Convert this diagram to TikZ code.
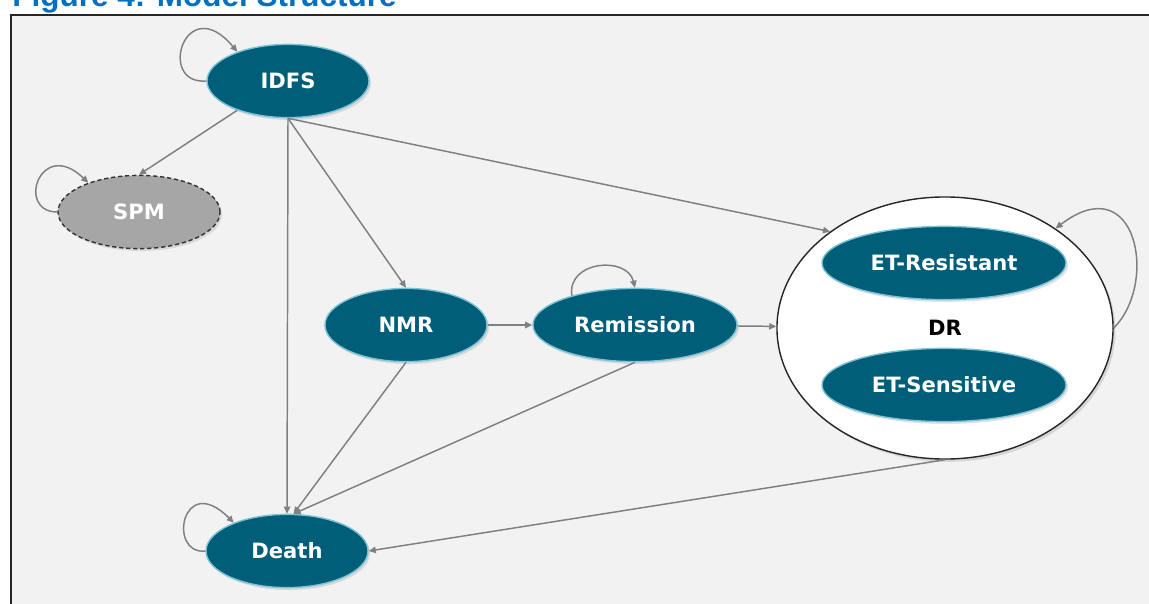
\documentclass[tikz,border=0pt]{standalone}
\usepackage{fontspec}
\setmainfont{DejaVu Sans}
\newfontfamily\titlefont{Liberation Sans}
\usetikzlibrary{shapes.geometric,arrows.meta,shadows}
\definecolor{tealfill}{RGB}{0,94,120}
\definecolor{tealrim}{RGB}{125,195,215}
\definecolor{spmgray}{RGB}{166,166,166}
\definecolor{flowgray}{RGB}{128,128,128}
\definecolor{panelgray}{RGB}{242,242,242}
\definecolor{titleblue}{RGB}{0,112,192}

\begin{document}
\begin{tikzpicture}[x=0.025cm,y=-0.025cm,
	state_node/.style={ellipse,fill=tealfill,draw=tealrim,line width=1pt,text=white,font=\bfseries\fontsize{15}{18}\selectfont,inner sep=0pt,minimum width=4.05cm,minimum height=1.83cm,drop shadow={shadow xshift=0.05cm,shadow yshift=-0.06cm,opacity=0.22}},
	spm_node/.style={state_node,fill=spmgray,draw=black!80,dash pattern=on 3pt off 2pt},
	dr_node/.style={ellipse,fill=white,draw=black!85,line width=1pt,inner sep=0pt,minimum width=8.4cm,minimum height=6.55cm,drop shadow={shadow xshift=0.06cm,shadow yshift=-0.07cm,opacity=0.25}},
	flow/.style={draw=flowgray,line width=1.05pt,-{Triangle[length=5pt,width=4.5pt]}}]
	
	\useasboundingbox (0,0) rectangle (1149,604);
	\clip (0,0) rectangle (1149,604);
	
	% panel and title
	\fill[panelgray] (11,15) rectangle (1149,604);
	\draw[line width=2pt,black!85] (11,604) -- (11,15) -- (1149,15);
	\node[anchor=base west,inner sep=0pt,text=titleblue,font=\titlefont\bfseries\fontsize{22.4}{26}\selectfont] (title) at (12,6.5) {Figure 4: Model Structure};
	
	\node[state_node] (idfs) at (288,81) {IDFS};
	\node[spm_node] (spm) at (139,212) {SPM};
	\node[state_node] (nmr) at (406,325) {NMR};
	\node[state_node,minimum width=5.1cm] (remission) at (635,325) {Remission};
	\node[state_node] (death) at (287,551) {Death};
	
	\node[dr_node] (dr) at (945,328) {};
	\node[state_node,minimum width=6.1cm] (etr) at (944,263) {ET-Resistant};
	\node[font=\bfseries\fontsize{15}{18}\selectfont] (drlabel) at (945,328) {DR};
	\node[state_node,minimum width=6.1cm] (ets) at (944,385) {ET-Sensitive};
	
	\draw[flow] (idfs.210) -- (spm.north);
	\draw[flow] (idfs.south) -- (death.north);
	\draw[flow] (idfs.south) -- (nmr.north);
	\draw[flow] (idfs.south) -- (dr.140);
	\draw[flow] (nmr) -- (remission);
	\draw[flow] (remission) -- (dr);
	\draw[flow] (nmr.south) -- (death.80);
	\draw[flow] (remission.south) -- (death.80);
	\draw[flow] (dr.south) -- (death.east);
	
	% self loops
	\draw[flow] (idfs.west) .. controls +(-50,4) and +(-52,-62) .. (idfs.150);
	\draw[flow] (spm.west) .. controls +(-42,0) and +(-48,-46) .. (spm.150);
	\draw[flow] (remission.155) .. controls +(-5,-35) and +(-8,-32) .. (remission.north);
	\draw[flow] (dr.east) .. controls +(45,-45) and +(81,-62) .. (dr.42);
	\draw[flow] (death.west) .. controls +(-38,4) and +(-52,-52) .. (death.152);
\end{tikzpicture}
\end{document}
